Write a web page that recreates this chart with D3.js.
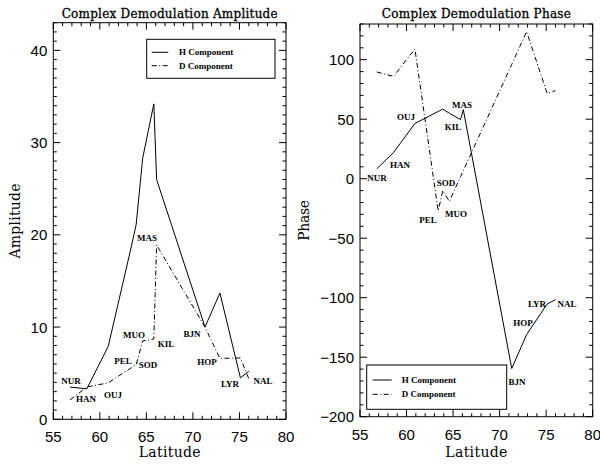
<!DOCTYPE html>
<html><head><meta charset="utf-8">
<script src="https://cdn.jsdelivr.net/npm/d3@7"></script>
<style>body{margin:0;background:#fff}svg{display:block}</style>
</head><body>
<svg id="c" width="600" height="464"></svg>
<script>
// ---- data ----
const stations = ["NUR","HAN","OUJ","PEL","SOD","MUO","KIL","MAS","BJN","HOP","LYR","NAL"];
const latitude = [56.8, 58.6, 60.9, 63.4, 63.9, 64.6, 65.8, 66.1, 71.3, 72.9, 75.1, 76.0];
const ampH = [3.5, 3.3, 7.9, 18.8, 21.1, 28.3, 34.2, 26.0, 10.0, 13.7, 4.5, 5.2];
const ampD = [2.1, 3.5, 3.95, 5.6, 5.9, 8.5, 8.7, 18.9, 10.0, 6.6, 6.65, 4.4];
const phaseH = [8.3, 22, 46.4, 56.5, 58.5, 55, 49.7, 58, -159.5, -131, -105.4, -101.6];
const phaseD = [89.7, 86, 109, -27, -10, -19, 1.6, 6.8, 96, 123.6, 71.8, 74];
const xTicks = [55, 60, 65, 70, 75, 80];
const ampTicks = [0, 10, 20, 30, 40];
const phaseTicks = [-200, -150, -100, -50, 0, 50, 100];

const svg = d3.select("#c");
const titleFont = "'DejaVu Serif', 'Liberation Serif', serif";
const labFont = "'Liberation Serif', serif";
const tickFont = "'Liberation Sans', Arial, sans-serif";

function panel(o) {
  const x = d3.scaleLinear().domain([55, 80]).range([o.x0, o.x1]);
  const y = d3.scaleLinear().domain(o.yDomain).range([o.y1, o.y0]);
  const g = svg.append("g");
  g.append("rect").attr("x", o.x0).attr("y", o.y0).attr("width", o.x1 - o.x0).attr("height", o.y1 - o.y0)
    .attr("fill", "none").attr("stroke", "#000").attr("stroke-width", 1);
  const xMinor = d3.range(55, 80.01, 1);
  const yMinor = d3.range(o.yDomain[0], o.yDomain[1] + 0.001, o.yMinorStep);
  const tk = g.append("g").attr("stroke", "#000").attr("stroke-width", 1);
  xMinor.forEach(v => {
    const len = (v % 5 === 0) ? 7 : 3.5;
    tk.append("line").attr("x1", x(v)).attr("x2", x(v)).attr("y1", o.y1).attr("y2", o.y1 - len);
    tk.append("line").attr("x1", x(v)).attr("x2", x(v)).attr("y1", o.y0).attr("y2", o.y0 + len);
  });
  yMinor.forEach(v => {
    const major = o.yTicks.some(t => Math.abs(t - v) < 1e-6);
    const len = major ? 7 : 3.5;
    tk.append("line").attr("y1", y(v)).attr("y2", y(v)).attr("x1", o.x0).attr("x2", o.x0 + len);
    tk.append("line").attr("y1", y(v)).attr("y2", y(v)).attr("x1", o.x1).attr("x2", o.x1 - len);
  });
  xTicks.forEach(v => {
    g.append("text").attr("x", x(v)).attr("y", o.y1 + 23).attr("text-anchor", "middle")
      .attr("font-family", tickFont).attr("font-size", 15).text(v);
  });
  o.yTicks.forEach(v => {
    g.append("text").attr("x", o.x0 - 6).attr("y", y(v) + 5.5).attr("text-anchor", "end")
      .attr("font-family", tickFont).attr("font-size", 15).text(v < 0 ? "\u2212" + Math.abs(v) : v);
  });
  const cx = (o.x0 + o.x1) / 2;
  g.append("text").attr("x", cx - o.titleW / 2).attr("y", 18)
    .attr("textLength", o.titleW).attr("lengthAdjust", "spacing")
    .attr("font-family", titleFont).attr("font-size", 12).attr("stroke", "#000").attr("stroke-width", 0.3)
    .text(o.title);
  g.append("text").attr("x", cx - 31).attr("y", 457).attr("textLength", 62).attr("lengthAdjust", "spacing")
    .attr("font-family", titleFont).attr("font-size", 14).text("Latitude");
  g.append("text").attr("transform", `translate(${o.yLabX},${(o.y0 + o.y1) / 2 + o.yLabW / 2}) rotate(-90)`)
    .attr("textLength", o.yLabW).attr("lengthAdjust", "spacing")
    .attr("font-family", titleFont).attr("font-size", 14).text(o.yLabel);
  const line = d3.line().x((d, i) => x(latitude[i])).y(d => y(d));
  g.append("path").attr("d", line(o.h)).attr("fill", "none").attr("stroke", "#000").attr("stroke-width", 1);
  g.append("path").attr("d", line(o.d)).attr("fill", "none").attr("stroke", "#000").attr("stroke-width", 1)
    .attr("stroke-dasharray", "5,2.5,1,2.5");
  stations.forEach((s, i) => {
    g.append("text").attr("x", o.labels[s][0]).attr("y", o.labels[s][1]).attr("text-anchor", "middle")
      .attr("font-family", labFont).attr("font-size", 9).attr("font-weight", "bold").text(s);
  });
  const L = o.legend;
  g.append("rect").attr("x", L.x).attr("y", L.y).attr("width", L.w).attr("height", L.h)
    .attr("fill", "#fff").attr("stroke", "#000").attr("stroke-width", 1);
  [["H Component", null], ["D Component", "5,2.5,1,2.5"]].forEach((e, k) => {
    const yy = L.y + L.r0 + k * L.dr;
    const ln = g.append("line").attr("x1", L.x + L.l0).attr("x2", L.x + L.l1).attr("y1", yy).attr("y2", yy)
      .attr("stroke", "#000").attr("stroke-width", 1);
    if (e[1]) ln.attr("stroke-dasharray", e[1]);
    g.append("text").attr("x", L.x + L.t0).attr("y", yy + 3).attr("font-family", labFont)
      .attr("font-size", 9).attr("font-weight", "bold").text(e[0]);
  });
}

panel({
  x0: 53.3, x1: 286, y0: 22.7, y1: 419.3, yDomain: [0, 43], yTicks: ampTicks, yMinorStep: 1,
  title: "Complex Demodulation Amplitude", titleW: 216, yLabel: "Amplitude", yLabW: 75, yLabX: 20,
  h: ampH, d: ampD,
  labels: {NUR:[71,384],HAN:[86,402],OUJ:[113,398],PEL:[123,364],SOD:[148,368],MUO:[134,338],KIL:[166,347],MAS:[147,241],BJN:[192,337],HOP:[207,365],LYR:[230,387],NAL:[263,384]},
  legend: {x: 146.7, y: 39.3, w: 128.3, h: 39, r0: 13, dr: 13.4, l0: 5, l1: 21.6, t0: 32.3}
});

panel({
  x0: 360, x1: 592.7, y0: 24, y1: 416.7, yDomain: [-200, 130], yTicks: phaseTicks, yMinorStep: 10,
  title: "Complex Demodulation Phase", titleW: 189, yLabel: "Phase", yLabW: 41, yLabX: 309,
  h: phaseH, d: phaseD,
  labels: {NUR:[377,181],HAN:[400,168],OUJ:[406,120],PEL:[428,223],SOD:[446,186],MUO:[456,217],KIL:[453,130],MAS:[462,108],BJN:[517,385],HOP:[523,326],LYR:[537,307],NAL:[567,307]},
  legend: {x: 366.7, y: 365, w: 140, h: 44.3, r0: 15, dr: 14.3, l0: 6, l1: 25, t0: 35}
});
</script>
</body></html>
